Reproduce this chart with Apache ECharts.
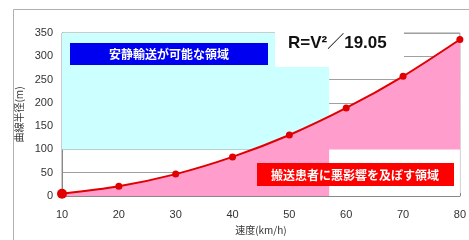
<!DOCTYPE html>
<html>
<head>
<meta charset="utf-8">
<script src="https://cdn.jsdelivr.net/npm/echarts@6/dist/echarts.min.js"></script>
<style>
  html, body { margin: 0; padding: 0; background: #fff; }
  #chart { width: 469px; height: 240px; }
</style>
</head>
<body>
<div id="chart"></div>
<script>
// 速度(km/h) と 曲線半径(m)
const speeds = [10, 20, 30, 40, 50, 60, 70, 80];
const radii = [5, 21, 47, 84, 131, 189, 257, 336];

// 領域の境界 (データ座標)
const calmSpeed = [10, 57];
const calmRadius = [100, 350];
const badSpeed = [57, 80];
const badRadius = [0, 100];

const formulaText = 'R=V²／19.05';
const calmText = '安静輸送が可能な領域';
const badText = '搬送患者に悪影響を及ぼす領域';

const FONT = '"Noto Sans CJK JP", "Liberation Sans", sans-serif';

const chart = echarts.init(document.getElementById('chart'));

const option = {
  animation: false,
  backgroundColor: '#fff',
  grid: {
    left: 62, right: 6, top: 33, bottom: 44,
    show: true, borderColor: '#999', borderWidth: 1
  },
  xAxis: {
    type: 'value',
    min: 10, max: 80, interval: 10,
    name: '速度(km/h)',
    nameLocation: 'middle',
    nameGap: 28,
    nameTextStyle: { color: '#333', fontSize: 10, fontFamily: FONT },
    axisLine: { lineStyle: { color: '#888' } },
    axisTick: { show: true, inside: true, length: 3, lineStyle: { color: '#888' } },
    axisLabel: { color: '#333', fontSize: 11, margin: 13, fontFamily: '"Liberation Sans", sans-serif' },
    splitLine: { show: false }
  },
  yAxis: {
    type: 'value',
    min: 0, max: 350, interval: 50,
    name: '曲線半径(m)',
    nameLocation: 'middle',
    nameRotate: 90,
    nameGap: 31,
    nameTextStyle: { color: '#333', fontSize: 10, fontFamily: FONT },
    axisLine: { show: true, lineStyle: { color: '#888' } },
    axisTick: { show: false },
    axisLabel: { color: '#333', fontSize: 11, margin: 9, fontFamily: '"Liberation Sans", sans-serif' },
    splitLine: { lineStyle: { color: '#a0a0a0' } }
  },
  series: [
    {
      type: 'line',
      data: speeds.map((v, i) => [v, radii[i]]),
      smooth: 0.3,
      symbol: 'circle',
      symbolSize: (val, p) => (p.dataIndex === 0 ? 10 : 7),
      lineStyle: { color: '#e00000', width: 2 },
      itemStyle: { color: '#e00000' },
      areaStyle: { color: '#ff9dcd', opacity: 1 },
      z: 2,
      markArea: {
        silent: true,
        itemStyle: { color: '#ccffff' },
        data: [[
          { xAxis: calmSpeed[0], yAxis: calmRadius[0] },
          { xAxis: calmSpeed[1], yAxis: calmRadius[1] }
        ]]
      }
    },
    {
      type: 'line',
      data: [],
      z: 3,
      markArea: {
        silent: true,
        z: 3,
        itemStyle: { color: '#ffffff' },
        data: [[
          { xAxis: badSpeed[0], yAxis: badRadius[0] },
          { xAxis: badSpeed[1], yAxis: badRadius[1] }
        ]]
      }
    }
  ],
  graphic: {
    z: 100,
    elements: [
      // 外枠
      {
        type: 'rect', z: 100, silent: true,
        shape: { x: 13.5, y: 9.5, width: 500, height: 300 },
        style: { fill: null, stroke: '#b0b0b0', lineWidth: 1 }
      },
      // 式
      {
        type: 'rect', z: 100,
        shape: { x: 275, y: 28, width: 129, height: 39 },
        style: { fill: '#fff' }
      },
      {
        type: 'text', z: 101, left: 288, top: 35,
        style: { text: formulaText, fill: '#111', font: 'bold 17px "Liberation Sans", "Noto Sans CJK JP", sans-serif' }
      },
      // 安静輸送
      {
        type: 'rect', z: 100,
        shape: { x: 70, y: 43, width: 198, height: 22 },
        style: { fill: '#0000f0' }
      },
      {
        type: 'text', z: 101, x: 169, y: 54,
        style: {
          text: calmText, fill: '#fff', align: 'center', verticalAlign: 'middle',
          font: 'bold 12px ' + FONT
        }
      },
      // 悪影響
      {
        type: 'rect', z: 100,
        shape: { x: 257, y: 163, width: 197, height: 23 },
        style: { fill: '#ff0000' }
      },
      {
        type: 'text', z: 101, x: 355, y: 175,
        style: {
          text: badText, fill: '#fff', align: 'center', verticalAlign: 'middle',
          font: 'bold 12px ' + FONT
        }
      }
    ]
  }
};

chart.setOption(option);
</script>
</body>
</html>
